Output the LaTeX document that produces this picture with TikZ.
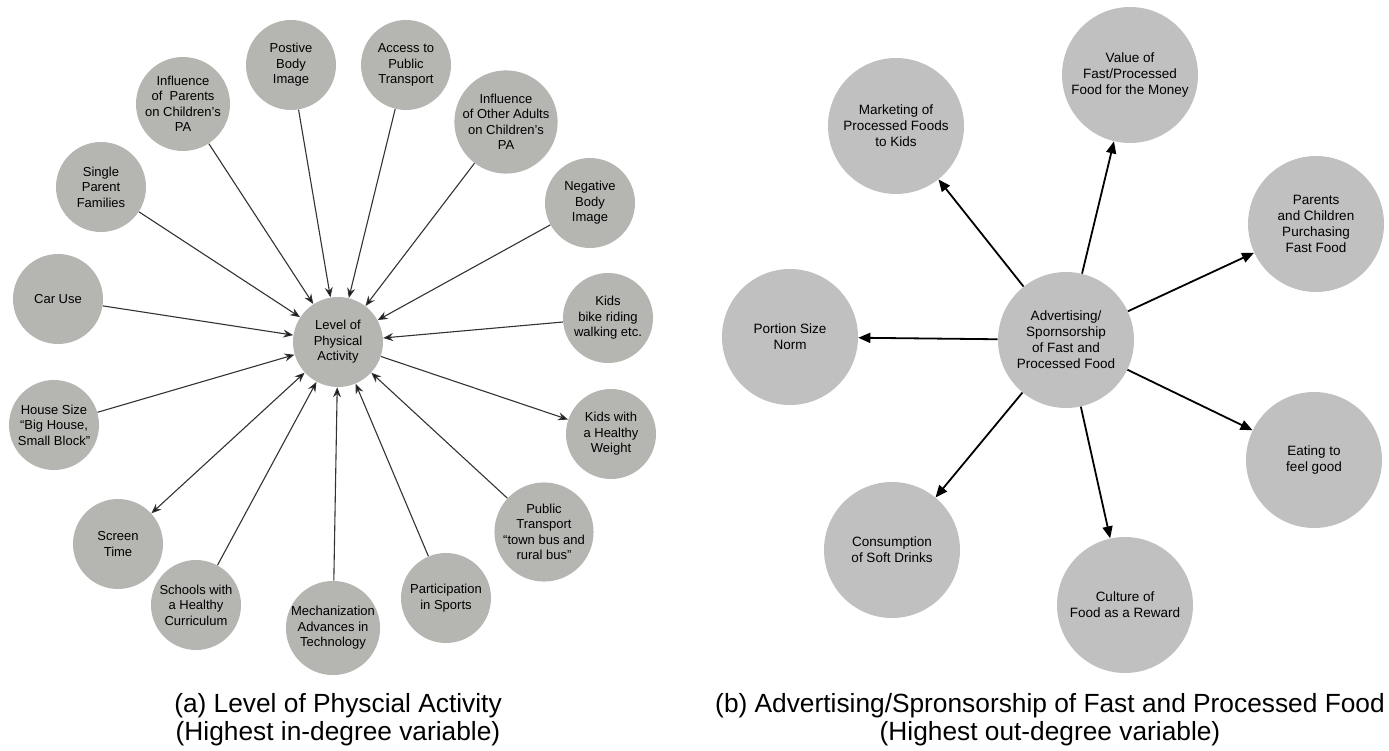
\documentclass[tikz,border=0pt]{standalone}
\usepackage{fontspec}
\setmainfont{Liberation Sans}
\usetikzlibrary{arrows.meta}
\definecolor{leftgray}{HTML}{B5B6B1}
\definecolor{rightgray}{HTML}{C0C0C0}
\definecolor{leftline}{HTML}{333333}

\begin{document}
\begin{tikzpicture}[x=1pt,y=-1pt,semithick]
  \tikzstyle{var}=[circle,fill=leftgray,minimum size=90pt,inner sep=0pt,align=center,
                   font=\fontsize{13}{15.5}\selectfont]
  \tikzstyle{big}=[circle,fill=rightgray,minimum size=136pt,inner sep=0pt,align=center,
                   font=\fontsize{13.5}{16}\selectfont]
  \tikzstyle{inlink}=[->,>={Stealth[length=10pt,width=8pt]},draw=leftline,line width=1.1pt]
  \tikzstyle{outlink}=[->,>={Triangle[length=12pt,width=10pt]},draw=black,line width=1.8pt]
  \tikzstyle{caption}=[align=center,font=\fontsize{26.3}{28}\selectfont]
  \useasboundingbox (0,0) rectangle (1389,751);

  % (a) highest in-degree
  \node[var] (L)  at (338,342) {Level of\\Physical\\Activity};
  \node[var] (PB) at (291,65)  {Postive\\Body\\Image};
  \node[var] (IP) at (183,104) {Influence\\of~ Parents\\on Children’s\\PA};
  \node[var] (SP) at (101,187) {Single\\Parent\\Families};
  \node[var] (AT) at (406,65)  {Access to\\Public\\Transport};
  \node[var] (IO) at (506,122) {Influence\\of Other Adults\\on Children’s\\PA};
  \node[var] (NB) at (590,203) {Negative\\Body\\Image};
  \node[var] (CU) at (58,299)  {Car Use};
  \node[var] (HS) at (54,425)  {House Size\\“Big House,\\Small Block”};
  \node[var] (KB) at (608,318) {Kids\\bike riding\\walking etc.};
  \node[var] (KW) at (611,434) {Kids with\\a Healthy\\Weight};
  \node[var] (PT) at (544,532) {Public\\Transport\\“town bus and\\rural bus”};
  \node[var] (PS) at (446,598) {Participation\\in Sports};
  \node[var] (MA) at (333,628) {Mechanization\\Advances in\\Technology};
  \node[var] (SC) at (196,605) {Schools with\\a Healthy\\Curriculum};
  \node[var] (ST) at (118,544) {Screen\\Time};
  \path [inlink]
        (PB) edge (L)
        (IP) edge (L)
        (SP) edge (L)
        (AT) edge (L)
        (IO) edge (L)
        (NB) edge (L)
        (CU) edge (L)
        (HS) edge (L)
        (KB) edge (L)
        (L)  edge (KW)
        (PT) edge (L)
        (PS) edge (L)
        (MA) edge (L)
        (SC) edge (L)
        (ST) edge [<->] (L);
  \node[caption] (CA) at (338,720) {(a) Level of Physcial Activity\\(Highest in-degree variable)};

  % (b) highest out-degree
  \node[big] (F)  at (1066,340) {Advertising/\\Spornsorship\\of Fast and\\Processed Food};
  \node[big] (MK) at (896,126)  {Marketing of\\Processed Foods\\to Kids};
  \node[big] (VF) at (1130,75)  {Value of\\Fast/Processed\\Food for the Money};
  \node[big] (PC) at (1316,224) {Parents\\and Children\\Purchasing\\Fast Food};
  \node[big] (PN) at (790,337)  {Portion Size\\Norm};
  \node[big] (EF) at (1314,460) {Eating to\\feel good};
  \node[big] (SD) at (892,550)  {Consumption\\of Soft Drinks};
  \node[big] (CR) at (1125,605) {Culture of\\Food as a Reward};
  \path [outlink]
        (F) edge (MK)
            edge (VF)
            edge (PC)
            edge (PN)
            edge (EF)
            edge (SD)
            edge (CR);
  \node[caption] (CB) at (1050,720) {(b) Advertising/Spronsorship of Fast and Processed Food\\(Highest out-degree variable)};
\end{tikzpicture}
\end{document}
